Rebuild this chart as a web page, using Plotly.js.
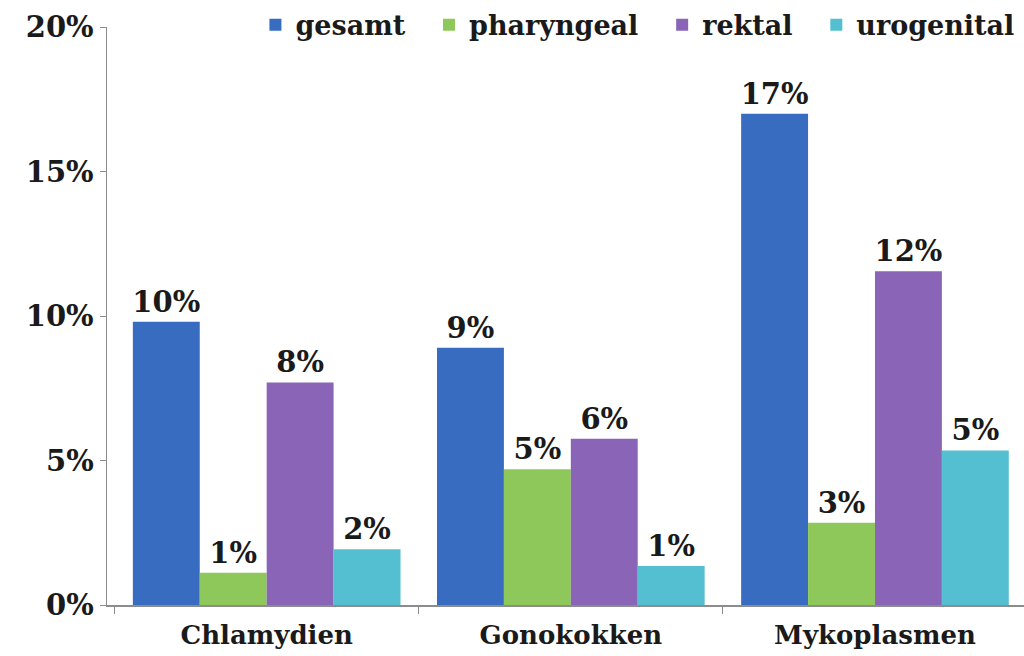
<!DOCTYPE html>
<html><head><meta charset="utf-8">
<script src="https://cdn.plot.ly/plotly-3.0.1.min.js"></script>
<style>body{margin:0;background:#fff}#chart{width:1024px;height:656px}</style>
</head><body><div id="chart"></div>
<script>
const categories = ["Chlamydien", "Gonokokken", "Mykoplasmen"];
const seriesNames = ["gesamt", "pharyngeal", "rektal", "urogenital"];
const gesamt = [0.098, 0.089, 0.170];
const pharyngeal = [0.0112, 0.047, 0.0285];
const rektal = [0.077, 0.0575, 0.1155];
const urogenital = [0.0193, 0.0135, 0.0535];
const colors = ["#386cc0", "#8fc85a", "#8a65b7", "#55bfd2"];

const values = [gesamt, pharyngeal, rektal, urogenital];
const base = {family: "DejaVu Serif", color: "#1a1a1a", weight: "bold"};
const numFont = Object.assign({}, base, {size: 29});
const catFont = Object.assign({}, base, {size: 26});
const legFont = Object.assign({}, base, {size: 27});
const traces = values.map((v, i) => ({
  type: "bar", name: seriesNames[i] + (i < 3 ? "\u00a0\u00a0" : ""), x: categories, y: v,
  marker: {color: colors[i]},
  texttemplate: "%{y:.0%}", textposition: "outside", cliponaxis: false,
  constraintext: "none",
  textfont: numFont, hoverinfo: "none"
}));
const layout = {
  width: 1024, height: 656,
  margin: {l: 107, r: 0, t: 27, b: 51},
  paper_bgcolor: "#fff", plot_bgcolor: "#fff",
  barmode: "group", bargap: 0.12, bargroupgap: 0,
  font: numFont,
  showlegend: true,
  legend: {orientation: "h", x: 0.995, xanchor: "right", y: 1.003, yanchor: "middle",
           font: legFont, itemwidth: 30, tracegroupgap: 0, traceorder: "normal"},
  xaxis: {range: [-0.525, 2.49], showline: true, linecolor: "#8c8c8c", linewidth: 1.5,
          ticks: "outside", tickson: "boundaries", ticklen: 7, tickcolor: "#8c8c8c",
          tickfont: catFont, ticklabelstandoff: 6, showgrid: false, zeroline: false},
  yaxis: {range: [0, 0.2], tickvals: [0, 0.05, 0.1, 0.15, 0.2], tickformat: ".0%",
          showline: true, linecolor: "#8c8c8c", linewidth: 1.5, ticks: "outside",
          ticklen: 6, tickcolor: "#8c8c8c", tickfont: numFont, showgrid: false,
          zeroline: false}
};
Plotly.newPlot("chart", traces, layout, {displayModeBar: false, staticPlot: true});
</script></body></html>
